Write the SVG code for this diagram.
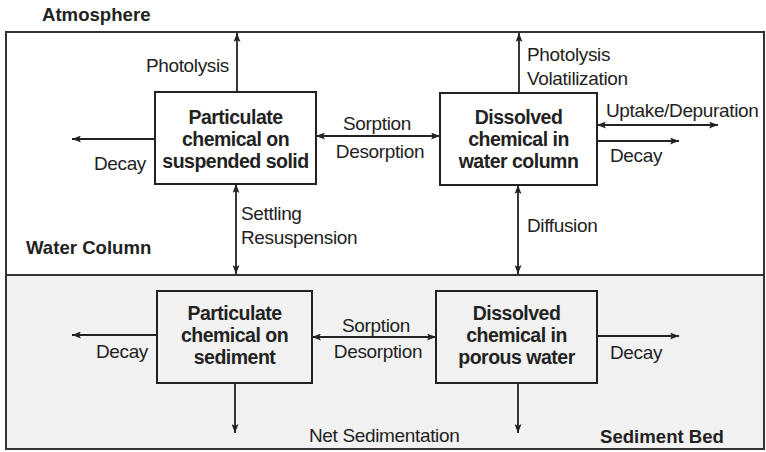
<svg xmlns="http://www.w3.org/2000/svg" width="766" height="452" viewBox="0 0 766 452">
<defs>
<style>
.t{font-family:"Liberation Sans",Arial,sans-serif;font-size:19px;letter-spacing:-0.35px;fill:#222}
.b{font-family:"Liberation Sans",Arial,sans-serif;font-size:18.6px;font-weight:bold;fill:#222}
.bx{font-family:"Liberation Sans",Arial,sans-serif;font-size:19.5px;letter-spacing:-0.5px;font-weight:bold;fill:#222}
.c{text-anchor:middle}
.e{text-anchor:end}
.box{fill:none;stroke:#222;stroke-width:2}
.ln{stroke:#222;stroke-width:1.8;fill:none}
</style>
<marker id="ah" viewBox="0 0 9 7" refX="9" refY="3.5" markerWidth="9" markerHeight="7" markerUnits="userSpaceOnUse" orient="auto-start-reverse">
<path d="M0,0 L9,3.5 L0,7 L2,3.5 z" fill="#222"/>
</marker>
</defs>
<rect width="766" height="452" fill="#fff"/>
<rect x="6" y="275" width="758" height="174" fill="#f2f2f2"/>
<rect x="6" y="32" width="758" height="417" fill="none" stroke="#333" stroke-width="2"/>
<line x1="6" y1="275" x2="764" y2="275" stroke="#333" stroke-width="2"/>
<text class="b" x="42" y="21">Atmosphere</text>
<text class="b" x="26" y="254">Water Column</text>
<text class="b" x="600" y="443">Sediment Bed</text>

<g id="connectors">
<line class="ln" x1="237" y1="92" x2="237" y2="33" marker-end="url(#ah)"/>
<line class="ln" x1="519" y1="93" x2="519" y2="33" marker-end="url(#ah)"/>
<line class="ln" x1="155" y1="139" x2="72" y2="139" marker-end="url(#ah)"/>
<line class="ln" x1="316" y1="136" x2="440" y2="136" marker-start="url(#ah)" marker-end="url(#ah)"/>
<line class="ln" x1="597" y1="125" x2="718" y2="125" marker-start="url(#ah)" marker-end="url(#ah)"/>
<line class="ln" x1="597" y1="141" x2="679" y2="141" marker-end="url(#ah)"/>
<line class="ln" x1="236" y1="184" x2="236" y2="274" marker-start="url(#ah)" marker-end="url(#ah)"/>
<line class="ln" x1="518" y1="185" x2="518" y2="274" marker-start="url(#ah)" marker-end="url(#ah)"/>
<line class="ln" x1="157" y1="335" x2="72" y2="335" marker-end="url(#ah)"/>
<line class="ln" x1="312" y1="337" x2="436" y2="337" marker-start="url(#ah)" marker-end="url(#ah)"/>
<line class="ln" x1="597" y1="336" x2="679" y2="336" marker-end="url(#ah)"/>
<line class="ln" x1="235" y1="383" x2="235" y2="433" marker-end="url(#ah)"/>
<line class="ln" x1="518" y1="383" x2="518" y2="433" marker-end="url(#ah)"/>
<text class="t e" x="229" y="72">Photolysis</text>
<text class="t" x="527" y="61">Photolysis</text>
<text class="t" x="527" y="85">Volatilization</text>
<text class="t e" x="146" y="170">Decay</text>
<text class="t c" x="377" y="130">Sorption</text>
<text class="t c" x="380" y="158">Desorption</text>
<text class="t" x="606" y="117">Uptake/Depuration</text>
<text class="t" x="610" y="162">Decay</text>
<text class="t" x="241" y="220">Settling</text>
<text class="t" x="241" y="244">Resuspension</text>
<text class="t" x="527" y="232">Diffusion</text>
<text class="t e" x="148" y="358">Decay</text>
<text class="t c" x="376" y="332">Sorption</text>
<text class="t c" x="378" y="358">Desorption</text>
<text class="t" x="610" y="359">Decay</text>
<text class="t" x="309" y="442">Net Sedimentation</text>
</g>

<g id="n1">
<rect class="box" x="155" y="92" width="161" height="92" fill="#fff"/>
<text class="bx c" x="235.5" y="124">Particulate</text>
<text class="bx c" x="235.5" y="146">chemical on</text>
<text class="bx c" x="235.5" y="168">suspended solid</text>
</g>
<g id="n2">
<rect class="box" x="440" y="93" width="157" height="92"/>
<text class="bx c" x="518.5" y="124">Dissolved</text>
<text class="bx c" x="518.5" y="146">chemical in</text>
<text class="bx c" x="518.5" y="168">water column</text>
</g>
<g id="n3">
<rect class="box" x="157" y="291" width="155" height="92"/>
<text class="bx c" x="234.5" y="320">Particulate</text>
<text class="bx c" x="234.5" y="342">chemical on</text>
<text class="bx c" x="234.5" y="364">sediment</text>
</g>
<g id="n4">
<rect class="box" x="436" y="291" width="161" height="92"/>
<text class="bx c" x="516.5" y="320">Dissolved</text>
<text class="bx c" x="516.5" y="342">chemical in</text>
<text class="bx c" x="516.5" y="364">porous water</text>
</g>
</svg>
